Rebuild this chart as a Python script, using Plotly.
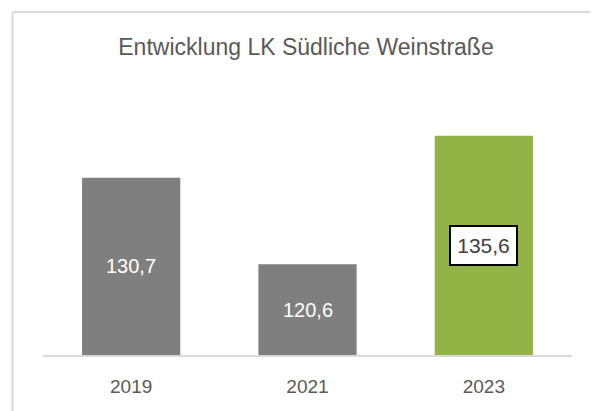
import plotly.graph_objects as go

years = ["2019", "2021", "2023"]
values = [130.7, 120.6, 135.6]
bar_colors = ["#7F7F7F", "#7F7F7F", "#92B447"]
title_text = "Entwicklung LK Südliche Weinstraße"
y_min, y_max = 110, 140

FONT = "Liberation Sans, Arial, sans-serif"

# the page body has an 8px margin, so figure coords = page coords - 8
OFF = 8
W, H = 598 - OFF, 411 - OFF
L = 43 - OFF
T = 98 - OFF
B = H - (355 - OFF)
R = W - (572 - OFF)

fig = go.Figure(go.Bar(
    x=years, y=values, marker_color=bar_colors, marker_line_width=0,
    hoverinfo="x+y",
))

# value labels centred in the visible part of each bar
for i, v in enumerate(values):
    label = f"{v:.1f}".replace(".", ",")
    if i == len(values) - 1:
        fig.add_annotation(
            x=i, y=(y_min + v) / 2, xref="x", yref="y", text=label, showarrow=False,
            font=dict(family=FONT, size=21, color="#404040"),
            bgcolor="white", bordercolor="black", borderwidth=2, borderpad=3,
            width=59, height=31,
        )
    else:
        fig.add_annotation(
            x=i, y=(y_min + v) / 2, xref="x", yref="y", text=label, showarrow=False,
            font=dict(family=FONT, size=20, color="white"),
        )

pw = W - L - R
ph = H - T - B
bx = (12.5 - OFF - L) / pw
by = (H - B - (12 - OFF)) / ph
fig.add_shape(type="line", xref="paper", yref="paper", x0=bx, x1=bx, y0=-1, y1=by,
              line=dict(color="#D9D9D9", width=2))
fig.add_shape(type="line", xref="paper", yref="paper", x0=bx, x1=2, y0=by, y1=by,
              line=dict(color="#D9D9D9", width=2))

fig.update_layout(
    width=W, height=H, margin=dict(l=L, r=R, t=T, b=B),
    paper_bgcolor="white", plot_bgcolor="white",
    bargap=0.443, showlegend=False,
    title=dict(text=title_text, x=(306 - OFF) / W, xanchor="center",
               y=1 - (47 - OFF) / H, yanchor="middle",
               font=dict(family=FONT, size=23, color="#595959")),
    xaxis=dict(type="category", range=[-0.5, len(years) - 0.5], showgrid=False,
               showline=True, linecolor="#D9D9D9",
               linewidth=1.5, ticks="outside", ticklen=13, tickcolor="rgba(0,0,0,0)",
               tickfont=dict(family=FONT, size=19, color="#595959")),
    yaxis=dict(range=[y_min, y_max], visible=False, showgrid=False, zeroline=False),
)

fig.write_html("out.html")
